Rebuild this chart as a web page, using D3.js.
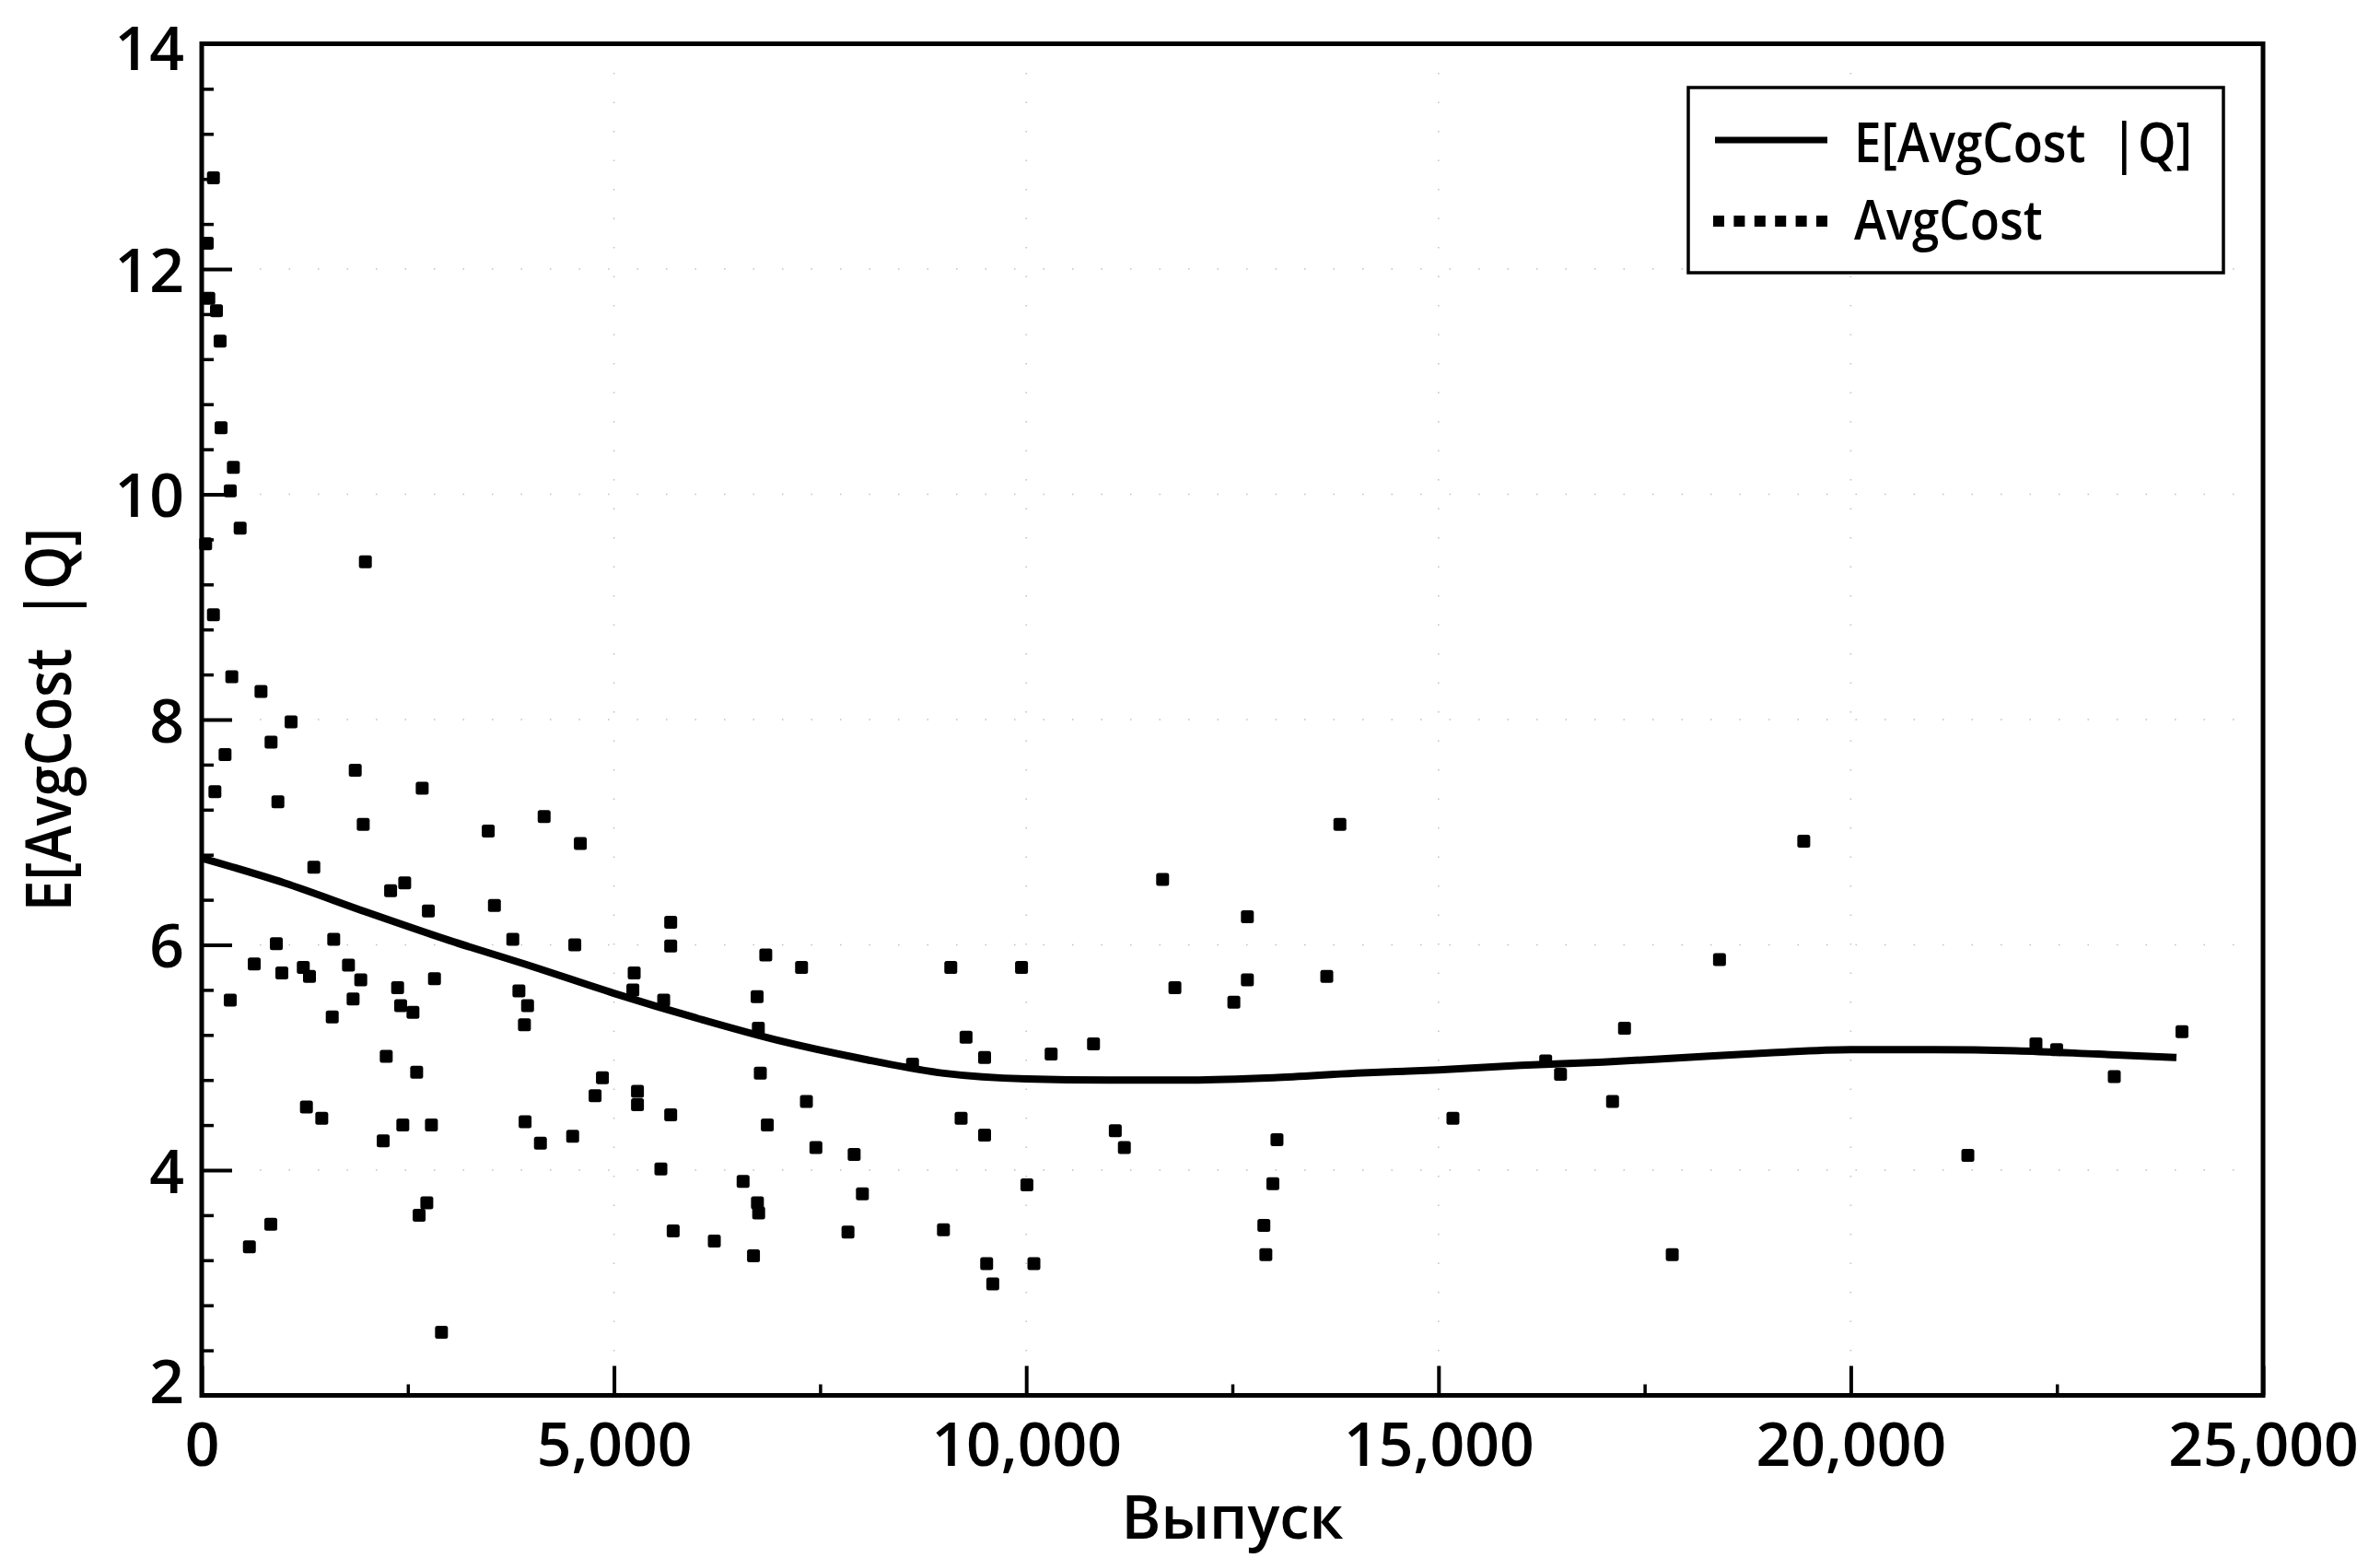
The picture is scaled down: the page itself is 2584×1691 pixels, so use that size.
<!DOCTYPE html>
<html><head><meta charset="utf-8">
<script src="https://cdn.jsdelivr.net/npm/d3@7"></script>
<style>
html,body{margin:0;padding:0;background:#fff;}
svg text{font-family:"Open Sans","Noto Sans",sans-serif;font-weight:600;fill:#000;}
</style></head><body>
<svg id="chart" width="2584" height="1691"></svg>
<script>
// ---- data ----
const outputQ = [142,67,86,179,223,235,384,346,466,48,1985,142,365,719,1084,841,283,1862,2674,160,924,1959,4153,3475,4592,1360,2462,2291,2749,3550,3773,4525,1601,905,637,972,1232,1307,1780,1929,2823,2376,3847,3952,5245,5229,346,1836,2413,2562,1583,3914,2238,2607,4860,4771,5285,5285,1270,1456,2439,2786,2201,3922,4108,4499,5569,578,838,2908,2730,2637,5688,5688,6841,7275,9085,9943,11654,11803,5603,6736,6751,8621,9270,9495,10302,10816,5688,6775,6860,7334,7449,7913,9210,9495,11080,11190,6566,6740,6755,8013,10008,5718,6217,6692,7838,8996,9520,9594,10093,13804,12682,12682,12518,13645,18408,17256,17111,16480,15175,13041,12991,12882,12906,17835,19430,24017,22246,22497,23196,21420,16300];
const avgCost = [12.81,12.23,11.74,11.63,11.36,10.59,10.24,10.03,9.70,9.56,9.40,8.93,8.38,8.25,7.98,7.80,7.69,7.55,7.39,7.36,7.27,7.07,7.14,7.01,6.90,6.69,6.55,6.48,6.30,6.35,6.05,6.00,6.05,6.01,5.83,5.75,5.80,5.72,5.82,5.69,5.70,5.62,5.59,5.46,5.75,5.60,5.51,5.52,5.46,5.40,5.36,5.29,5.01,4.87,4.82,4.66,4.70,4.58,4.56,4.46,4.40,4.40,4.26,4.43,4.24,4.30,4.01,3.32,3.52,2.56,3.71,3.60,6.20,5.99,5.91,5.80,5.80,5.80,6.58,5.62,5.51,5.54,5.26,4.94,5.18,5.00,5.03,5.12,4.49,4.86,4.40,4.61,4.20,4.14,4.46,4.31,4.35,4.20,3.90,3.71,3.62,3.79,3.87,3.46,3.37,3.24,3.45,3.47,3.17,2.99,3.17,7.07,6.25,5.69,5.49,5.72,5.87,5.26,4.61,4.85,4.46,4.27,3.88,3.51,3.25,3.25,6.92,5.23,5.12,5.07,4.83,4.13,4.97];
const curveQ = [0,1000,2000,3000,4000,5000,6000,7000,8000,9000,10000,11000,12000,13000,14000,15000,16000,17000,18000,19000,20000,21000,22000,23000,23950];
const curveE = [6.77,6.55,6.29,6.04,5.81,5.57,5.35,5.15,4.99,4.86,4.81,4.80,4.80,4.82,4.86,4.89,4.93,4.96,5.00,5.04,5.07,5.07,5.06,5.03,5.00];
const xTickValues = [0,5000,10000,15000,20000,25000];
const xMinorTicks = [2500,7500,12500,17500,22500];
const yTickValues = [2,4,6,8,10,12,14];
const yMinorTicks = [2.4,2.8,3.2,3.6,4.4,4.8,5.2,5.6,6.4,6.8,7.2,7.6,8.4,8.8,9.2,9.6,10.4,10.8,11.2,11.6,12.4,12.8,13.2,13.6];
const xTitle = "Выпуск";
const yTitle = "E[AvgCost\u00A0\u00A0|Q]";
const legendLabels = ["E[AvgCost\u00A0\u00A0|Q]", "AvgCost"];

// ---- layout ----
const W = 2584, H = 1691;
const m = {left:219, right:2457, top:47.5, bottom:1514.5};
const x = d3.scaleLinear().domain([0,25000]).range([m.left, m.right]);
const y = d3.scaleLinear().domain([2,14]).range([m.bottom, m.top]);
const svg = d3.select("#chart");
svg.append("rect").attr("width",W).attr("height",H).attr("fill","#fff");

// faint dotted grid
const grid = svg.append("g").attr("stroke","#999").attr("stroke-width",1.5).attr("stroke-dasharray","1.5 30").attr("opacity",0.6);
grid.selectAll("line.gx").data(xTickValues.slice(1,-1)).join("line").attr("class","gx")
  .attr("x1",d=>x(d)).attr("x2",d=>x(d)).attr("y1",m.top).attr("y2",m.bottom);
grid.selectAll("line.gy").data(yTickValues.slice(1,-1)).join("line").attr("class","gy")
  .attr("y1",d=>y(d)).attr("y2",d=>y(d)).attr("x1",m.left).attr("x2",m.right);

// x axis
const gx = svg.append("g").attr("transform",`translate(0,${m.bottom})`)
  .call(d3.axisBottom(x).tickValues(xTickValues).tickFormat(d3.format(",")).tickSizeInner(-32).tickSizeOuter(0).tickPadding(30));
gx.select(".domain").remove();
gx.selectAll(".tick line").attr("stroke","#000").attr("stroke-width",4);
gx.selectAll(".tick text").attr("font-size",66);
const gxm = svg.append("g").attr("transform",`translate(0,${m.bottom})`)
  .call(d3.axisBottom(x).tickValues(xMinorTicks).tickFormat("").tickSizeInner(-12).tickSizeOuter(0));
gxm.select(".domain").remove();
gxm.selectAll(".tick line").attr("stroke","#000").attr("stroke-width",3.5);

// y axis
const gy = svg.append("g").attr("transform",`translate(${m.left},0)`)
  .call(d3.axisLeft(y).tickValues(yTickValues).tickSizeInner(-33).tickSizeOuter(0).tickPadding(19));
gy.select(".domain").remove();
gy.selectAll(".tick line").attr("stroke","#000").attr("stroke-width",4);
gy.selectAll(".tick text").attr("font-size",66)
  .attr("dy", d => d === 2 ? "0.12em" : (d === 14 ? "0.42em" : "0.37em"));
const gym = svg.append("g").attr("transform",`translate(${m.left},0)`)
  .call(d3.axisLeft(y).tickValues(yMinorTicks).tickFormat("").tickSizeInner(-13).tickSizeOuter(0));
gym.select(".domain").remove();
gym.selectAll(".tick line").attr("stroke","#000").attr("stroke-width",3.5);

// frame
svg.append("rect").attr("x",m.left).attr("y",m.top)
  .attr("width",m.right-m.left).attr("height",m.bottom-m.top)
  .attr("fill","none").attr("stroke","#000").attr("stroke-width",5);

// scatter
const pts = outputQ.map((q,i)=>({q, v:avgCost[i]}));
const S = 14;
svg.append("g").selectAll("rect").data(pts).join("rect")
  .attr("x",d=>x(d.q)-S/2).attr("y",d=>y(d.v)-S/2)
  .attr("width",S).attr("height",S).attr("rx",2.5).attr("fill","#000");

// conditional expectation curve
const line = d3.line().x(d=>x(d[0])).y(d=>y(d[1])).curve(d3.curveMonotoneX);
svg.append("path").datum(curveQ.map((q,i)=>[q,curveE[i]]))
  .attr("d",line).attr("fill","none").attr("stroke","#000").attr("stroke-width",8);

// axis titles
svg.append("text").attr("x",(m.left+m.right)/2).attr("y",1670)
  .attr("text-anchor","middle").attr("font-size",65).text(xTitle);
svg.append("text").attr("transform",`translate(77,${(m.top+m.bottom)/2}) rotate(-90) scale(0.88,1)`)
  .attr("text-anchor","middle").attr("font-size",68).style("white-space","pre").text(yTitle);

// legend
const lg = svg.append("g");
lg.append("rect").attr("x",1833).attr("y",95).attr("width",581).attr("height",201)
  .attr("fill","#fff").attr("stroke","#000").attr("stroke-width",3.5);
lg.append("line").attr("x1",1862).attr("x2",1984).attr("y1",152).attr("y2",152)
  .attr("stroke","#000").attr("stroke-width",7);
lg.selectAll("rect.sq").data(d3.range(6)).join("rect").attr("class","sq")
  .attr("x",i=>1860+i*22.4).attr("y",234).attr("width",12).attr("height",12).attr("fill","#000");
lg.selectAll("text").data(legendLabels).join("text")
  .attr("transform",(d,i)=>`translate(2013,${i===0?176:260}) scale(0.88,1)`)
  .attr("font-size",60).style("white-space","pre").text(d=>d);
</script>
</body></html>
